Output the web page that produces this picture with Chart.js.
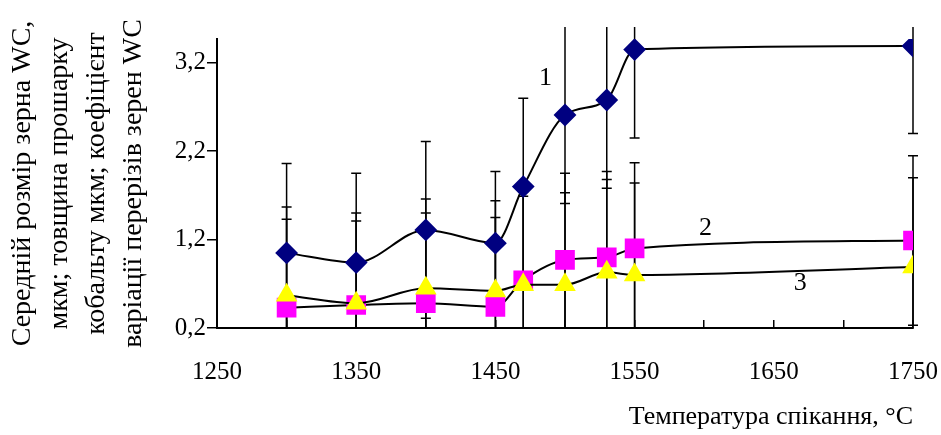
<!DOCTYPE html>
<html>
<head>
<meta charset="utf-8">
<script src="https://cdn.jsdelivr.net/npm/chart.js@4/dist/chart.umd.min.js"></script>
<style>
  html, body { margin: 0; padding: 0; background: #fff; }
  #wrap { width: 941px; height: 435px; }
</style>
</head>
<body>
<div id="wrap"><canvas id="chart" width="941" height="435"></canvas></div>
<script>
// Temperatures (°C)
const temps = [1300, 1350, 1400, 1450, 1470, 1500, 1530, 1550, 1750];

// 1 - average WC grain size, 2 - cobalt interlayer thickness, 3 - variation coefficient
const grainSize = [1.05, 0.94, 1.31, 1.16, 1.80, 2.61, 2.78, 3.35, 3.39];
const cobaltLayer = [0.43, 0.46, 0.48, 0.44, 0.74, 0.97, 1.00, 1.10, 1.19];
const variation = [0.57, 0.48, 0.65, 0.62, 0.69, 0.69, 0.83, 0.80, 0.89];

// error bar half-widths
const grainErr = [1.01, 1.01, 1.00, 0.81, 1.00, 1.00, 1.00, 1.00, 0.99];
const cobaltErr = [1.14, 1.04, 1.18, 1.20, 1.00, 0.98, 0.97, 0.97, 0.96];
const variationErr = [0.86, 0.93, 0.85, 0.83, 1.00, 1.04, 1.05, 1.04, 1.01];

const yTicks = [0.2, 1.2, 2.2, 3.2];
const curveNames = ['1', '2', '3'];
const nameX = [1486, 1601, 1669];
const nameY = [3.03, 1.33, 0.71];

const serif = "'Liberation Serif', 'DejaVu Serif', serif";

function pts(ys) {
    return temps.map((t, i) => ({ x: t, y: ys[i] }));
}

// Vertical error bars with caps, drawn under the markers
const errorBars = {
    id: 'errorBars',
    beforeDatasetsDraw(chart) {
        const ctx = chart.ctx;
        const xs = chart.scales.x, ys = chart.scales.y;
        const area = chart.chartArea;
        const top = area.top - 12, bottom = area.bottom;
        ctx.save();
        ctx.strokeStyle = '#000';
        ctx.lineWidth = 1.5;
        chart.data.datasets.forEach(ds => {
            ds.data.forEach((p, i) => {
                const e = ds.errors[i];
                const px = xs.getPixelForValue(p.x);
                const yHi = ys.getPixelForValue(p.y + e);
                const yLo = ys.getPixelForValue(p.y - e);
                ctx.beginPath();
                ctx.moveTo(px, Math.max(yHi, top));
                ctx.lineTo(px, Math.min(yLo, bottom));
                [yHi, yLo].forEach(cy => {
                    if (cy >= top && cy <= bottom) {
                        ctx.moveTo(px - 5, cy);
                        ctx.lineTo(px + 5, cy);
                    }
                });
                ctx.stroke();
            });
        });
        ctx.restore();
    }
};

// Curve numbers
const curveLabels = {
    id: 'curveLabels',
    afterDatasetsDraw(chart) {
        const ctx = chart.ctx;
        ctx.save();
        ctx.font = '26px ' + serif;
        ctx.fillStyle = '#000';
        ctx.textAlign = 'center';
        ctx.textBaseline = 'middle';
        curveNames.forEach((n, i) => {
            ctx.fillText(n, chart.scales.x.getPixelForValue(nameX[i]), chart.scales.y.getPixelForValue(nameY[i]));
        });
        ctx.restore();
    }
};

new Chart(document.getElementById('chart'), {
    type: 'line',
    data: {
        datasets: [
            {
                data: pts(grainSize),
                errors: grainErr,
                order: 0,
                borderColor: '#000',
                borderWidth: 2,
                pointStyle: 'rectRot',
                pointRadius: 10,
                pointBackgroundColor: '#000080',
                pointBorderColor: '#000080',
                cubicInterpolationMode: 'monotone'
            },
            {
                data: pts(cobaltLayer),
                errors: cobaltErr,
                order: 2,
                borderColor: '#000',
                borderWidth: 2,
                pointStyle: 'rect',
                pointRadius: 12.5,
                pointBackgroundColor: '#ff00ff',
                pointBorderColor: '#ff00ff',
                cubicInterpolationMode: 'monotone'
            },
            {
                data: pts(variation),
                errors: variationErr,
                order: 1,
                borderColor: '#000',
                borderWidth: 2,
                pointStyle: 'triangle',
                pointRadius: 10.5,
                pointBackgroundColor: '#ffff00',
                pointBorderColor: '#ffff00',
                cubicInterpolationMode: 'monotone'
            }
        ]
    },
    options: {
        responsive: false,
        animation: false,
        events: [],
        layout: { padding: { left: 4, right: 28, top: 39, bottom: 2 } },
        plugins: { legend: { display: false }, tooltip: { enabled: false } },
        scales: {
            x: {
                type: 'linear',
                min: 1250,
                max: 1750,
                afterFit: s => { s.height = 105; s.paddingLeft = 0; s.paddingRight = 0; },
                border: { color: '#000', width: 2 },
                grid: { drawOnChartArea: false, color: '#000', tickLength: -8, lineWidth: 1.5 },
                ticks: {
                    stepSize: 50,
                    autoSkip: false,
                    maxRotation: 0,
                    padding: 37,
                    color: '#000',
                    font: { family: serif, size: 25 },
                    callback: v => ((v - 1250) % 100 === 0 ? String(v) : '')
                },
                title: {
                    display: true,
                    text: 'Температура спікання, °C',
                    align: 'end',
                    color: '#000',
                    font: { family: serif, size: 26 },
                    padding: 0
                }
            },
            y: {
                type: 'linear',
                min: 0.2,
                max: 3.47,
                afterFit: s => { s.width = 213; s.paddingTop = 0; s.paddingBottom = 0; },
                afterBuildTicks: s => { s.ticks = yTicks.map(v => ({ value: v })); },
                border: { color: '#000', width: 2 },
                grid: { drawOnChartArea: false, color: '#000', tickLength: 10, lineWidth: 1.5 },
                ticks: {
                    padding: 1,
                    color: '#000',
                    font: { family: serif, size: 25 },
                    callback: v => v.toFixed(1).replace('.', ',')
                },
                title: {
                    display: true,
                    text: ['Середній розмір зерна WC,', 'мкм; товщина прошарку', 'кобальту мкм; коефіцієнт', 'варіації перерізів зерен WC'],
                    color: '#000',
                    font: { family: serif, size: 28, lineHeight: 1.32 },
                    padding: 0
                }
            }
        }
    },
    plugins: [errorBars, curveLabels]
});
</script>
</body>
</html>
